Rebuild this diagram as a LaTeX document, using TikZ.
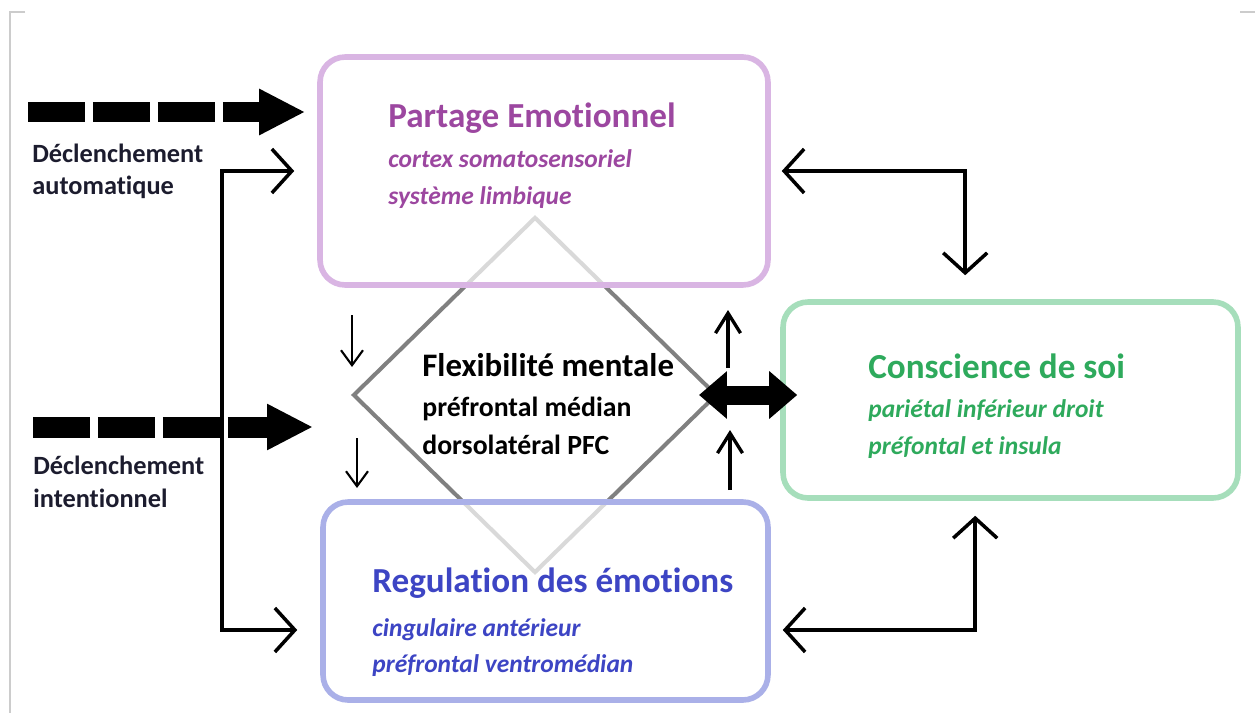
\documentclass[tikz,border=0pt]{standalone}
\usepackage{fontspec}
\setmainfont{Carlito}[Ligatures=NoCommon]
\usetikzlibrary{arrows.meta,shapes.geometric}

\definecolor{partagecol}{HTML}{9C47A0}
\definecolor{partageline}{HTML}{D9B5E3}
\definecolor{soicol}{HTML}{2EAA5C}
\definecolor{soiline}{HTML}{A6DEBB}
\definecolor{regulcol}{HTML}{3D45C4}
\definecolor{regulline}{HTML}{AAB0E8}
\definecolor{labelcol}{HTML}{1C1C2E}

\begin{document}
\begin{tikzpicture}[x=0.02cm,y=-0.02cm,
    box/.style={draw, line width=3.2pt, rounded corners=0.5cm, fill=white, fill opacity=0.7, inner sep=0pt},
    boxtext/.style={anchor=north west, inner sep=0pt, align=left},
    trigger/.style={line width=0.42cm, dash pattern=on 1.14cm off 0.16cm, -{Triangle[length=0.92cm,width=0.86cm]}},
    link/.style={line width=2pt, {Straight Barb[length=0.4cm,width=0.88cm]}-{Straight Barb[length=0.4cm,width=0.88cm]}},
    thinarrow/.style={line width=1.2pt, -{Straight Barb[length=0.3cm,width=0.44cm]}},
    uparrow/.style={line width=1.9pt, -{Straight Barb[length=0.4cm,width=0.5cm]}},
    bigarrow/.style={line width=0.38cm, {Triangle[length=0.56cm,width=0.92cm]}-{Triangle[length=0.56cm,width=0.92cm]}}
  ]
        \useasboundingbox (0,0) rectangle (1255,713);
        \draw[black!20, line width=0.6pt] (25,12) -- (10,12) -- (10,713);
        \draw[black!20, line width=0.6pt] (1240,12) -- (1255,12);

        % diamond behind the boxes
        \node[draw=black!50, line width=2.3pt, shape=diamond, minimum width=7.28cm, minimum height=7.12cm, inner sep=0pt] (flex) at (535,395) {};

        \node[box, draw=partageline, minimum width=8.96cm, minimum height=4.56cm] (partage) at (544,171) {};
        \node[box, draw=soiline, minimum width=9.1cm, minimum height=3.92cm] (soi) at (1010.5,400) {};
        \node[box, draw=regulline, minimum width=8.9cm, minimum height=3.96cm] (regul) at (545.5,601) {};

        \node[boxtext, text=partagecol, font=\fontsize{14.5}{21}\selectfont\bfseries\itshape] (partagetxt) at (388,102)
            {{\fontsize{20}{24}\selectfont\upshape Partage Emotionnel}\\[2.2pt] cortex somatosensoriel\\ système limbique};
        \node[boxtext, text=soicol, font=\fontsize{14.5}{21}\selectfont\bfseries\itshape] (soitxt) at (868,353)
            {{\fontsize{20}{24}\selectfont\upshape Conscience de soi}\\[1.7pt] pariétal inférieur droit\\ préfontal et insula};
        \node[boxtext, text=regulcol, font=\fontsize{14.5}{20.4}\selectfont\bfseries\itshape] (regultxt) at (372,567)
            {{\fontsize{20}{24}\selectfont\upshape Regulation des émotions}\\[5pt] cingulaire antérieur\\ préfrontal ventromédian};
        \node[boxtext, font=\fontsize{15.8}{21.5}\selectfont\bfseries] (flextxt) at (422,353)
            {{\fontsize{18.7}{22}\selectfont Flexibilité mentale}\\[1.2pt] préfrontal médian\\ dorsolatéral PFC};

        \node[boxtext, text=labelcol, font=\fontsize{15}{18.3}\selectfont\bfseries] (autolabel) at (32,144) {Déclenchement\\ automatique};
        \node[boxtext, text=labelcol, font=\fontsize{15}{18.8}\selectfont\bfseries] (intlabel) at (33,456) {Déclenchement\\ intentionnel};

        % triggers
        \coordinate (autostart) at (28,112);
        \coordinate (intstart) at (33,427);
        \draw[trigger, shorten >=0.24cm] (autostart) -- (autostart -| partage.west);
        \draw[trigger, shorten >=0.76cm] (intstart) -- (intstart -| flex.west);

        % connectors
        \coordinate (joint) at (222,400);
        \draw[link, shorten <=0.46cm, shorten >=0.46cm] (partage.west) -| (joint) |- ([yshift=-0.58cm]regul.west);
        \draw[link, shorten <=0.22cm, shorten >=0.48cm] (partage.east) -| ([xshift=3.7cm]soi.north west);
        \draw[link, shorten <=0.24cm, shorten >=0.3cm] ([yshift=-0.58cm]regul.east) -| ([xshift=3.9cm]soi.south west);

        \draw[thinarrow] (352,315) -- (352,367);
        \draw[thinarrow] (357,438) -- (357,488);
        \draw[uparrow] (728,368) -- (728,310);
        \draw[uparrow] (730,490) -- (730,430);

        \draw[bigarrow] ([xshift=-0.4cm]flex.east) -- ([xshift=0.34cm]flex.east -| soi.west);
\end{tikzpicture}
\end{document}
